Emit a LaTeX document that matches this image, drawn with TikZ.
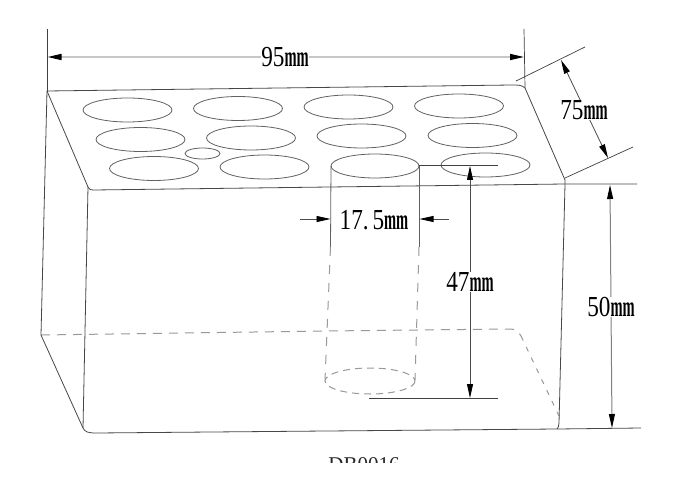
\documentclass[tikz,border=0pt]{standalone}
\usepackage{fontspec}
\setmainfont{Liberation Serif}
\usetikzlibrary{arrows.meta}
\newcommand{\dimlabel}[1]{\fontsize{29}{29}\selectfont\scalebox{.8}[1]{#1}\scalebox{.5}[1]{\bfseries mm}}
\tikzset{
  body/.style={draw=black!72,line width=.8pt,line join=round},
  hole/.style={draw=black!62,line width=.8pt},
  hidden/.style={draw=black!40,line width=1pt,dash pattern=on 9pt off 7pt},
  ext/.style={draw=black!75,line width=.7pt},
  tipend/.tip={Triangle[length=14pt,width=6pt,black]},
  dimline/.style={draw=black!70,line width=.8pt,{tipend}-{tipend}},
  arrowin/.style={draw=black!70,line width=.8pt,-{tipend}},
  dimtext/.style={fill=white,inner sep=0pt,text=black}
}
\begin{document}
\begin{tikzpicture}[x=1pt,y=-1pt]
\useasboundingbox[fill=white] (0,0) rectangle (692,486);
% corners
\coordinate (TL) at (47,91);
\coordinate (TR) at (525,88);
\coordinate (BR) at (565,180);
\coordinate (BL) at (88,187);
\coordinate (LL) at (41,335);
\coordinate (FL) at (83,428);
\coordinate (FR) at (557,429);
% hidden edges
\draw[hidden] (LL) -- (325,331) -- (510,329) .. controls (516,329) and (518,331) .. (521,336);
\draw[hidden,dash pattern=on 5pt off 7pt] (521,336) -- (559,416);
% body
\draw[body] (TL) -- (512,85) .. controls (518,85) and (522,85) .. (TR) -- (BR) -- (565,184);
\draw[body] (TL) -- (BL) .. controls (89,189) and (90,190) .. (94,190) -- (565,184) -- (637,184);
\draw[body] (TL) -- (LL) -- (FL) .. controls (85,432) and (88,433) .. (96,433) -- (FR) -- (641,428);
\draw[body] (BL) -- (FL);
\draw[body] (565,184) -- (559,423) .. controls (559,426) and (558,428) .. (FR);
% holes
\foreach \cx/\cy in {127.5/110,238/108.5,348.5/107,459/106,140.5/139.5,251/138,361.5/136,472.5/135.5,154/168.5,264.5/167,485.5/165}
  \draw[hole] (\cx,\cy) ellipse [x radius=44.5,y radius=12];
\draw[hole] (202.5,153.5) ellipse [x radius=17.5,y radius=5.5];
% deep hole
\draw[hole] (375,166) ellipse [x radius=44,y radius=12];
\draw[hole] (331,166) -- (330.5,247);
\draw[hole] (419,166) -- (419,247);
\draw[hidden,dash pattern=on 9pt off 9pt] (330.5,247) -- (325,380);
\draw[hidden,dash pattern=on 9pt off 9pt] (419,247) -- (415,380);
\draw[hidden,dash pattern=on 7pt off 5pt] (370,381) ellipse [x radius=45,y radius=13];
% extension lines
\draw[ext] (47,29) -- (TL);
\draw[ext] (524,29) -- (TR);
\draw[ext] (516,81) -- (585,47);
\draw[ext] (565,178) -- (633,147);
\draw[ext] (419,165) -- (498,165);
\draw[ext] (369,398) -- (498,398);
% dimension lines
\coordinate (A1) at (47.5,57); \coordinate (A2) at (524,57);
\coordinate (B1) at (561,60); \coordinate (B2) at (608,158);
\coordinate (C1) at (470,166); \coordinate (C2) at (470,398);
\coordinate (D1) at (610,185); \coordinate (D2) at (612,428);
\draw[dimline,draw=black!22,line width=1.6pt] (A1) -- (A2);
\draw[dimline] (B1) -- (B2);
\draw[dimline] (C1) -- (C2);
\draw[dimline,draw=black!50,line width=1pt] (D1) -- (D2);
\draw[arrowin] (300,219) -- (330.5,219);
\draw[arrowin] (449,219) -- (419.5,219);
% labels
\node[dimtext] (w) at (285,57) {\dimlabel{95}};
\node[dimtext] (d) at (584,110) {\dimlabel{75}};
\node[dimtext] (g) at (374,220) {\dimlabel{17.\,5}};
\node[dimtext] (h) at (470,282) {\dimlabel{47}};
\node[dimtext] (t) at (611,307) {\dimlabel{50}};
% cropped caption
\begin{scope}
\clip (320,450) rectangle (410,462);
\node[inner sep=0pt,font=\fontsize{21}{21}\selectfont,text=black!85] (cap) at (364,465) {DB0016};
\end{scope}
\end{tikzpicture}
\end{document}
